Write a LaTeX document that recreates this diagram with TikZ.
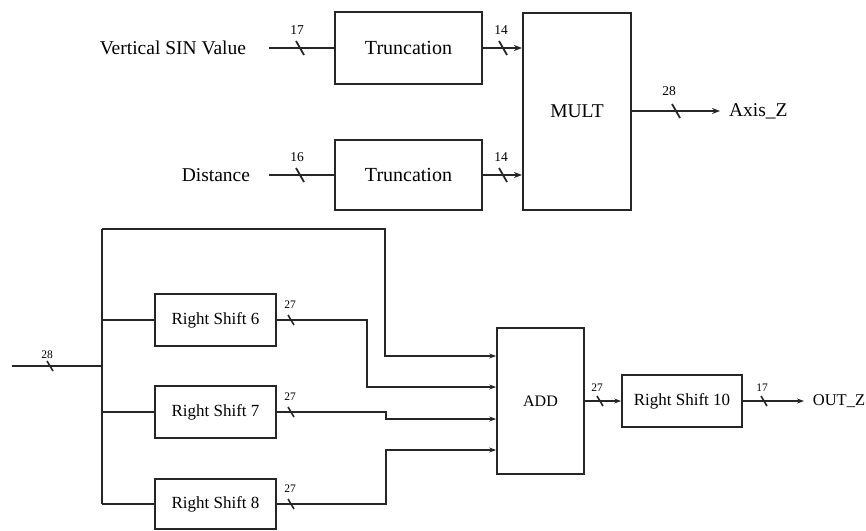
\documentclass[tikz,border=0pt]{standalone}
\usepackage{fontspec}
\setmainfont{Liberation Serif}
\usetikzlibrary{arrows.meta}
\begin{document}
\begin{tikzpicture}[x=1pt,y=-1pt,
  line width=2pt, draw=black!85,
  blk/.style={draw, line width=2pt, inner sep=0pt},
  lbl/.style={inner sep=0pt, font=\fontsize{19.5}{20}\selectfont},
  slbl/.style={inner sep=0pt, font=\fontsize{16.5}{17}\selectfont},
  numL/.style={inner sep=0pt, font=\fontsize{13.5}{14}\selectfont},
  numS/.style={inner sep=0pt, font=\fontsize{11.5}{12}\selectfont},
  arrL/.style={-{Stealth[length=8pt,width=6pt]}},
  arrS/.style={-{Stealth[length=7pt,width=5pt]}},
  busL/.pic={\draw[line width=1.8pt] (-4,-7) -- (4,7);},
  busS/.pic={\draw[line width=1.6pt] (-3,-5) -- (3,5);}
]
\useasboundingbox (0,0) rectangle (866,530);

% ---------- top part ----------
\node[lbl, anchor=east] (vsin) at (247,48) {Vertical SIN Value};
\node[lbl, anchor=east] (dist) at (251,175) {Distance};
\node[blk, minimum width=147pt, minimum height=72pt, font=\fontsize{20}{20}\selectfont] (tr1) at (408.5,48) {Truncation};
\node[blk, minimum width=147pt, minimum height=70pt, font=\fontsize{20}{20}\selectfont] (tr2) at (408.5,175) {Truncation};
\node[blk, minimum width=108pt, minimum height=197pt, font=\fontsize{19.5}{20}\selectfont] (mult) at (577,111.5) {MULT};
\node[lbl, anchor=west] (axisz) at (728,111) {Axis\_Z};

\coordinate (vin) at (269,48);
\coordinate (din) at (269,175);
\draw (vin) -- (tr1.west);
\draw (din) -- (tr2.west);
\draw[arrL] (tr1.east) -- (tr1.east -| mult.west);
\draw[arrL] (tr2.east) -- (tr2.east -| mult.west);
\draw[arrL] (mult.east |- axisz) -- ([xshift=-8pt]axisz.west);

\pic at (300,48) {busL};
\pic at (300,175) {busL};
\pic at (503,48) {busL};
\pic at (503,175) {busL};
\pic at (676,111) {busL};
\node[numL] (n17) at (297,30) {17};
\node[numL] (n16) at (297,157) {16};
\node[numL] (n14a) at (501,30) {14};
\node[numL] (n14b) at (501,157) {14};
\node[numL] (n28) at (669,91) {28};

% ---------- bottom part ----------
\begin{scope}[line width=1.7pt]
\tikzset{blk/.append style={line width=1.7pt}}
\node[blk, minimum width=121pt, minimum height=52pt, font=\fontsize{17}{17}\selectfont] (rs6) at (215.5,320) {Right Shift 6};
\node[blk, minimum width=121pt, minimum height=52pt, font=\fontsize{17}{17}\selectfont] (rs7) at (215.5,412) {Right Shift 7};
\node[blk, minimum width=121pt, minimum height=50pt, font=\fontsize{17}{17}\selectfont] (rs8) at (215.5,504) {Right Shift 8};
\node[blk, minimum width=87pt, minimum height=146pt, font=\fontsize{16}{16}\selectfont] (add) at (540.5,401) {ADD};
\node[blk, minimum width=120pt, minimum height=52pt, font=\fontsize{17}{17}\selectfont] (rs10) at (682,401) {Right Shift 10};
\node[slbl, anchor=west] (outz) at (812,401) {OUT\_Z};

\coordinate (in) at (12,366);
\coordinate (bj) at (102,366);
\coordinate (btop) at (102,229);
\coordinate (a1) at (add.west |- 0,356);
\coordinate (a2) at (add.west |- 0,387);
\coordinate (a3) at (add.west |- 0,419);
\coordinate (a4) at (add.west |- 0,450);

\draw (in) -- (bj);
\draw (btop) -- (btop |- rs8);
\draw (btop |- rs6) -- (rs6.west);
\draw (btop |- rs7) -- (rs7.west);
\draw (btop |- rs8) -- (rs8.west);

\draw[arrS] (btop) -| (385,356) -- (a1);
\draw[arrS] (rs6.east) -| (367,387) -- (a2);
\draw[arrS] (rs7.east) -- (386,412) -- (386,419) -- (a3);
\draw[arrS] (rs8.east) -| (386,450) -- (a4);
\draw[arrS] (add) -- (rs10);
\draw[arrS] (rs10.east) -- ([xshift=-8pt]outz.west);

\pic at (50,366) {busS};
\pic at (291,320) {busS};
\pic at (291,412) {busS};
\pic at (291,504) {busS};
\pic at (600,401) {busS};
\pic at (764,401) {busS};
\node[numS] (n28b) at (47,355) {28};
\node[numS] (n27a) at (290,305) {27};
\node[numS] (n27b) at (290,397) {27};
\node[numS] (n27c) at (290,489) {27};
\node[numS] (n27d) at (597,388) {27};
\node[numS] (n17b) at (762,388) {17};
\end{scope}
\end{tikzpicture}
\end{document}
